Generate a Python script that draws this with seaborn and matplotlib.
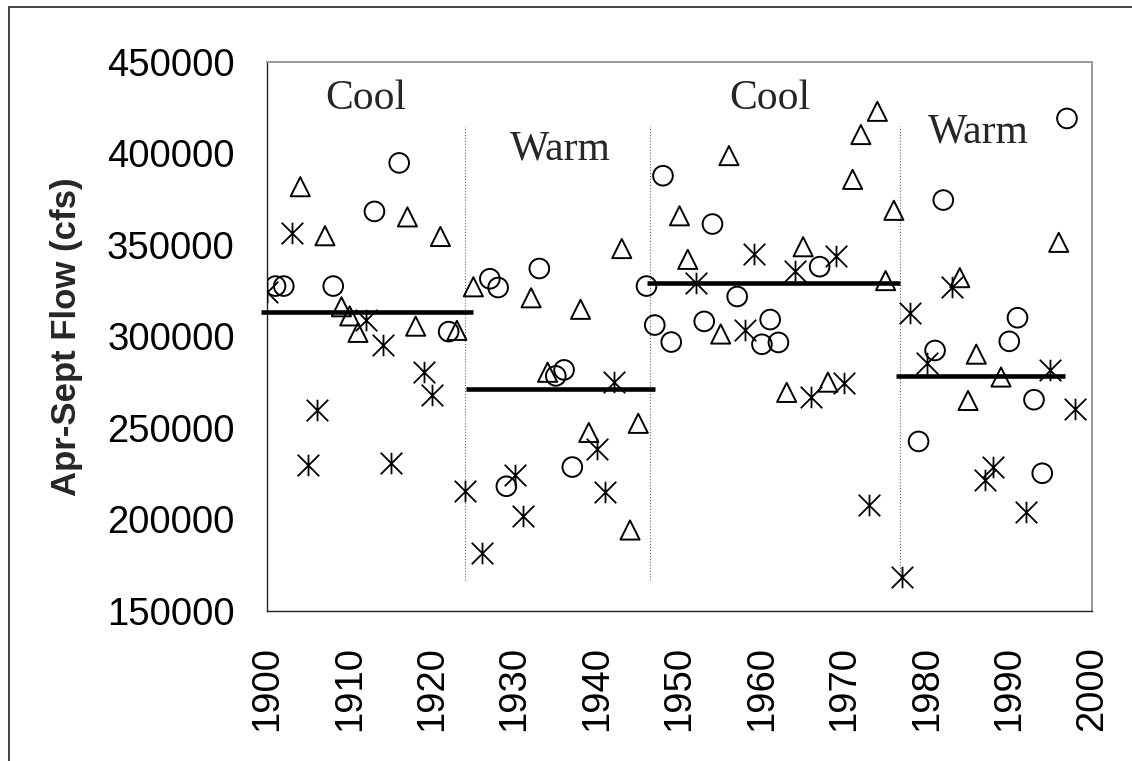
import pandas as pd
import matplotlib.pyplot as plt
import seaborn as sns
from matplotlib.patches import Rectangle
from matplotlib.path import Path

sns.set_theme(style="white")
plt.rcParams['font.family'] = ['Liberation Sans', 'DejaVu Sans']

# Apr-Sept flow by year, split by marker group
star_years = [1900, 1903, 1905, 1906, 1912, 1914, 1915, 1919, 1920, 1924, 1926,
              1930, 1931, 1940, 1941, 1942, 1952, 1958, 1959, 1964, 1966, 1969,
              1970, 1973, 1977, 1978, 1980, 1983, 1987, 1988, 1992, 1995, 1998]
star_flow = [324000, 356300, 229500, 259800, 309100, 295200, 230500, 280300, 267700,
             215600, 181800, 223900, 201700, 238500, 214600, 274900, 329000, 303600,
             344900, 335400, 266900, 343900, 274300, 207600, 168200, 312700, 285600,
             327000, 221600, 228500, 204000, 281800, 260400]

circle_years = [1901, 1902, 1908, 1913, 1916, 1922, 1927, 1928, 1929, 1933, 1935,
                1936, 1937, 1946, 1947, 1948, 1949, 1953, 1954, 1957, 1960, 1961,
                1962, 1967, 1979, 1981, 1982, 1990, 1991, 1993, 1994, 1997]
circle_flow = [327400, 327400, 327400, 368200, 394700, 302500, 331400, 326600, 218000,
               337000, 278300, 281600, 228500, 327400, 306100, 387700, 296800, 308100,
               361300, 321700, 295600, 309100, 296600, 338000, 242500, 292200, 374400,
               297200, 310100, 265300, 225100, 419000]

tri_years = [1904, 1907, 1909, 1910, 1911, 1917, 1918, 1921, 1923, 1925, 1932, 1934,
             1938, 1939, 1943, 1944, 1945, 1950, 1951, 1955, 1956, 1963, 1965, 1968,
             1971, 1972, 1974, 1975, 1976, 1984, 1985, 1986, 1989, 1996]
tri_flow = [381700, 354900, 316100, 311100, 302100, 365200, 305500, 354500, 303200,
            327000, 321000, 280300, 314700, 247400, 347900, 194100, 252400, 365800,
            342000, 301200, 398700, 269300, 348900, 274900, 385700, 410200, 422900,
            330400, 368800, 332000, 264900, 290200, 277700, 351300]

# regime means
regime_start = [1899.3, 1924.1, 1946.1, 1976.3]
regime_end = [1924.9, 1947.0, 1976.8, 1996.8]
regime_mean = [313100, 271300, 329000, 278300]
regime_breaks = [1924.0, 1946.4, 1976.7]

labels = ['Cool', 'Warm', 'Cool', 'Warm']
label_x = [1912.0, 1935.6, 1961.0, 1986.3]
label_y = [424000, 396800, 424000, 405600]

stars = pd.DataFrame({'year': star_years, 'flow': star_flow})
circles = pd.DataFrame({'year': circle_years, 'flow': circle_flow})
tris = pd.DataFrame({'year': tri_years, 'flow': tri_flow})

# Excel-style star marker: an X with a vertical bar
star_marker = Path([(0, -1), (0, 1), (-1, -1), (1, 1), (-1, 1), (1, -1)],
                   [Path.MOVETO, Path.LINETO, Path.MOVETO, Path.LINETO,
                    Path.MOVETO, Path.LINETO])

fig = plt.figure(figsize=(11.32, 7.61), dpi=100)
ax = fig.add_axes([0.2361, 0.1975, 0.7283, 0.7214])

sns.scatterplot(data=circles, x='year', y='flow', marker='o', s=200,
                facecolors='none', edgecolor='black', linewidth=1.4, ax=ax, zorder=3)
sns.scatterplot(data=tris, x='year', y='flow', marker='^', s=190,
                facecolors='none', edgecolor='black', linewidth=1.4, ax=ax, zorder=3)
sns.scatterplot(data=stars, x='year', y='flow', marker=star_marker, s=240,
                color='black', edgecolor='black', linewidth=1.3, ax=ax, zorder=3)

for x0, x1, m in zip(regime_start, regime_end, regime_mean):
    ax.plot([x0, x1], [m, m], color='black', linewidth=3.3, solid_capstyle='butt',
            clip_on=False, zorder=4)

for b in regime_breaks:
    ax.plot([b, b], [166800, 415000], color='#666666', linestyle=':', linewidth=0.8, zorder=2)

for t, x, y in zip(labels, label_x, label_y):
    ax.text(x, y, t, ha='center', va='baseline', fontsize=30,
            family=['Liberation Serif', 'DejaVu Serif'])

ax.set_xlim(1900, 2000)
ax.set_ylim(150000, 450000)
ax.set_xticks(range(1900, 2001, 10))
ax.set_yticks(range(150000, 450001, 50000))
ax.set_xticklabels([str(v) for v in range(1900, 2001, 10)], rotation=90)
ax.tick_params(axis='both', direction='out', length=9.4, width=1, color='#222222',
               labelsize=27.5, labelcolor='black')
ax.tick_params(axis='x', pad=16)
ax.tick_params(axis='y', pad=14)
ax.set_xlabel('')
ax.set_ylabel('Apr-Sept Flow (cfs)', fontsize=25, fontweight='bold', labelpad=17)

for side in ['top', 'right']:
    ax.spines[side].set_color('#9a9a9a')
    ax.spines[side].set_linewidth(1.4)
for side in ['left', 'bottom']:
    ax.spines[side].set_color('#222222')
    ax.spines[side].set_linewidth(1.0)

# outer chart frame, cut off at right and bottom
fig.patches.append(Rectangle((9 / 1132, -0.2), 1.5, 1.2 - 6.7 / 761, transform=fig.transFigure,
                             fill=False, edgecolor='#222222', linewidth=1.2))

fig.savefig('out.png', dpi=100)
plt.close(fig)
